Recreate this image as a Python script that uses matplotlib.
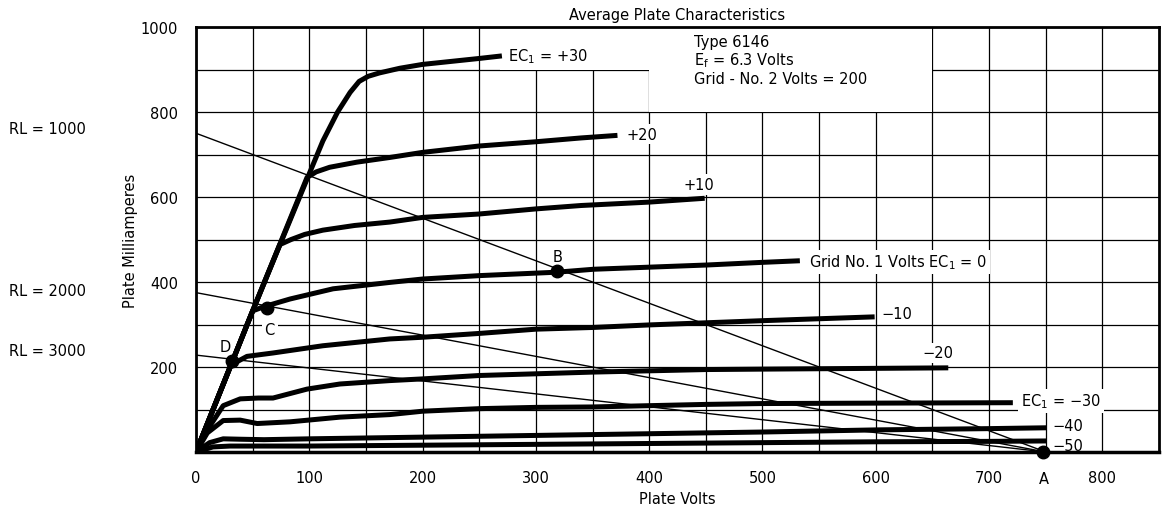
import matplotlib
matplotlib.use("Agg")
import matplotlib.pyplot as plt
from matplotlib.patches import Rectangle

plt.rcParams['font.family'] = 'DejaVu Sans'
plt.rcParams['font.size'] = 10.5

# plate curves (plate volts, plate mA)
v_p30 = [0, 50, 100, 112, 125, 136, 144, 152, 162, 180, 200, 250, 270]
i_p30 = [0, 332, 655, 732, 800, 846, 872, 884, 892, 903, 912, 926, 932]
v_p20 = [0, 50, 98, 106, 118, 142, 171, 200, 250, 300, 340, 372]
i_p20 = [0, 332, 646, 659, 670, 682, 693, 705, 720, 730, 739, 745]
v_p10 = [0, 50, 74, 84, 96, 112, 140, 171, 200, 250, 300, 340, 400, 449]
i_p10 = [0, 332, 488, 500, 512, 522, 533, 541, 552, 560, 572, 580, 588, 597]
v_0 = [0, 50, 60, 83, 121, 171, 200, 250, 318, 351, 401, 451, 498, 533]
i_0 = [0, 332, 342, 360, 384, 399, 407, 415, 423, 430, 435, 440, 446, 450]
v_m10 = [0, 31, 45, 68, 112, 171, 200, 250, 300, 350, 400, 450, 500, 599]
i_m10 = [0, 205, 225, 233, 250, 266, 270, 279, 289, 293, 299, 304, 309, 318]
v_m20 = [0, 12, 24, 39, 55, 68, 98, 127, 171, 200, 250, 300, 350, 400, 450, 500, 664]
i_m20 = [0, 60, 109, 125, 127, 127, 148, 160, 168, 172, 180, 184, 188, 191, 194, 195, 198]
v_m30 = [0, 10, 24, 39, 54, 83, 127, 171, 200, 250, 300, 350, 400, 450, 500, 600, 721]
i_m30 = [0, 45, 74, 75, 67, 71, 82, 88, 96, 102, 105, 106, 109, 112, 114, 115, 116]
v_m40 = [0, 12, 24, 40, 60, 100, 200, 300, 400, 500, 600, 700, 751]
i_m40 = [0, 22, 31, 30, 29, 31, 35, 39, 43, 47, 52, 55, 57]
v_m50 = [0, 15, 30, 100, 200, 300, 400, 500, 600, 700, 751]
i_m50 = [0, 12, 14, 14, 16, 18, 20, 22, 24, 25, 26]

curves = [(v_p30, i_p30), (v_p20, i_p20), (v_p10, i_p10), (v_0, i_0), (v_m10, i_m10),
          (v_m20, i_m20), (v_m30, i_m30), (v_m40, i_m40), (v_m50, i_m50)]

# load lines all end at A (750 V, 0 mA)
load_start = [750, 375, 228]
load_end_v = 750

# operating points
pt_names = ['A', 'B', 'C', 'D']
pt_v = [748, 319, 63, 31.5]
pt_i = [0, 425, 340, 215]

fig, ax = plt.subplots(figsize=(11.62, 5.10), dpi=100)
fig.subplots_adjust(left=196/1162, right=1159/1162, bottom=57/510, top=482/510)

ax.set_xlim(0, 850)
ax.set_ylim(0, 1000)
ax.set_xticks(range(0, 900, 100))
ax.set_xticks(range(50, 850, 100), minor=True)
ax.set_yticks(range(200, 1100, 200))
ax.set_yticks(range(100, 1000, 200), minor=True)
ax.tick_params(which='both', length=0, pad=13, labelsize=10.5)
ax.grid(True, which='both', color='black', linewidth=0.9)
ax.set_axisbelow(True)
for s in ax.spines.values():
    s.set_linewidth(2)
ax.spines['bottom'].set_linewidth(2.5)

# white patches where the labels blank out the grid
ax.add_patch(Rectangle((400, 800), 250, 200, facecolor='white', edgecolor='none', zorder=1))
ax.add_patch(Rectangle((268, 900), 132, 100, facecolor='white', edgecolor='none', zorder=1))

for v, i in curves:
    ax.plot(v, i, color='black', linewidth=3.6, solid_capstyle='butt',
            solid_joinstyle='round', zorder=3)

for i0 in load_start:
    ax.plot([0, load_end_v], [i0, 0], color='black', linewidth=1.0, zorder=2)

ax.plot(pt_v, pt_i, linestyle='none', marker='o', markersize=9, color='black',
        clip_on=False, zorder=5)

box = dict(facecolor='white', edgecolor='none', pad=2)
ax.text(275, 932, 'EC$_1$ = +30', va='center', ha='left', bbox=box, zorder=4)
ax.text(380, 748, '+20', va='center', ha='left', bbox=box, zorder=4)
ax.text(430, 630, '+10', va='center', ha='left', bbox=box, zorder=4)
ax.text(541, 447, 'Grid No. 1 Volts EC$_1$ = 0', va='center', ha='left', bbox=box, zorder=4)
ax.text(605, 327, '\u221210', va='center', ha='left', bbox=box, zorder=4)
ax.text(641, 233, '\u221220', va='center', ha='left', bbox=box, zorder=4)
ax.text(728, 120, 'EC$_1$ = \u221230', va='center', ha='left', bbox=box, zorder=4)
ax.text(756, 63, '\u221240', va='center', ha='left', bbox=box, zorder=4)
ax.text(756, 15, '\u221250', va='center', ha='left', zorder=4)

ax.text(748, -62, 'A', ha='center', va='center', clip_on=False)
ax.text(319, 459, 'B', ha='center', va='center', zorder=4)
ax.text(65, 289, 'C', ha='center', va='center', bbox=box, zorder=4)
ax.text(25.6, 249, 'D', ha='center', va='center', zorder=4)

ax.text(440, 967, 'Type 6146', va='center', ha='left', zorder=4)
ax.text(440, 922, 'E$_\\mathregular{f}$ = 6.3 Volts', va='center', ha='left', zorder=4)
ax.text(440, 878, 'Grid - No. 2 Volts = 200', va='center', ha='left', zorder=4)

ax.set_title('Average Plate Characteristics', fontsize=10.5, pad=6)
ax.set_xlabel('Plate Volts', labelpad=4)
ax.set_ylabel('Plate Milliamperes', labelpad=2)

fig.text(9/1162, 1 - 130/510, 'RL = 1000', va='center', ha='left')
fig.text(9/1162, 1 - 292/510, 'RL = 2000', va='center', ha='left')
fig.text(9/1162, 1 - 352/510, 'RL = 3000', va='center', ha='left')

fig.savefig('out.png', dpi=100)
